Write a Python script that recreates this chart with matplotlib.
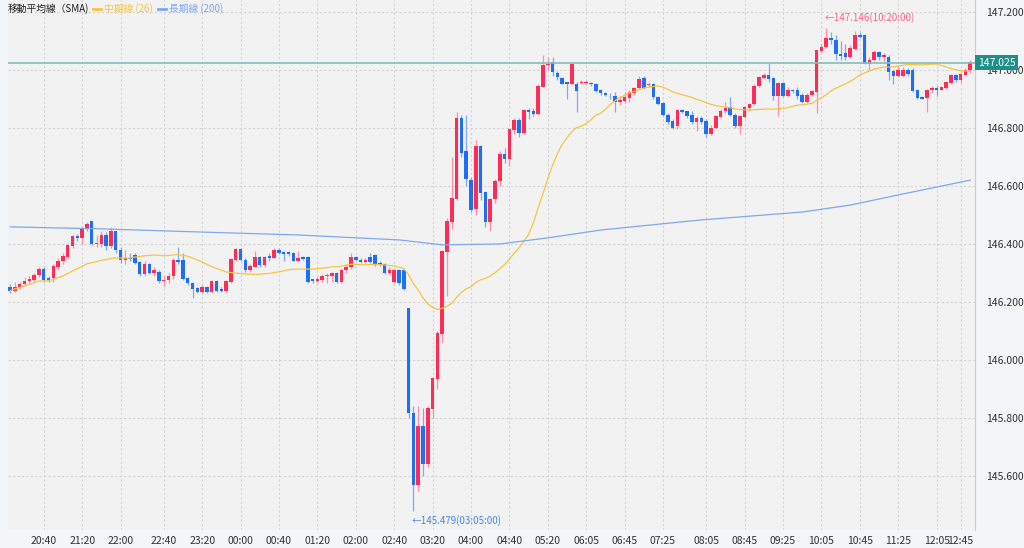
import matplotlib
matplotlib.use("Agg")
import matplotlib.pyplot as plt
import numpy as np
import pandas as pd

plt.rcParams['font.family'] = ['Noto Sans CJK JP', 'DejaVu Sans']

ohlc_rows = [
(146.251,146.239,146.262,146.232),(146.239,146.251,146.27,146.235),(146.251,146.262,146.27,146.245),
(146.262,146.272,146.285,146.255),(146.272,146.278,146.29,146.266),(146.278,146.293,146.30,146.27),
(146.293,146.313,146.32,146.285),(146.313,146.276,146.32,146.27),(146.282,146.276,146.29,146.27),
(146.285,146.322,146.33,146.27),(146.322,146.341,146.35,146.31),(146.341,146.356,146.37,146.33),
(146.356,146.394,146.40,146.35),(146.394,146.425,146.43,146.385),(146.425,146.42,146.435,146.41),
(146.42,146.452,146.46,146.40),(146.452,146.469,146.477,146.445),(146.477,146.40,146.48,146.395),
(146.40,146.403,146.43,146.39),(146.40,146.431,146.445,146.39),(146.431,146.393,146.44,146.38),
(146.393,146.442,146.46,146.385),(146.442,146.379,146.445,146.37),(146.379,146.347,146.39,146.335),
(146.347,146.352,146.38,146.33),(146.352,146.348,146.37,146.34),(146.36,146.336,146.37,146.33),
(146.336,146.296,146.34,146.29),(146.296,146.33,146.34,146.29),(146.33,146.30,146.335,146.295),
(146.30,146.31,146.32,146.29),(146.303,146.272,146.31,146.265),(146.272,146.276,146.29,146.255),
(146.276,146.29,146.30,146.265),(146.29,146.343,146.35,146.28),(146.345,146.34,146.39,146.33),
(146.343,146.28,146.37,146.275),(146.28,146.265,146.285,146.26),(146.265,146.247,146.27,146.215),
(146.247,146.236,146.25,146.23),(146.236,146.25,146.26,146.23),(146.25,146.236,146.255,146.23),
(146.236,146.27,146.275,146.23),(146.27,146.24,146.275,146.235),(146.243,146.24,146.25,146.235),
(146.24,146.27,146.275,146.235),(146.27,146.347,146.35,146.265),(146.347,146.382,146.385,146.34),
(146.382,146.345,146.385,146.34),(146.345,146.31,146.35,146.305),(146.31,146.322,146.33,146.305),
(146.322,146.354,146.375,146.32),(146.354,146.327,146.36,146.32),(146.327,146.354,146.36,146.32),
(146.358,146.354,146.37,146.34),(146.354,146.379,146.385,146.35),(146.379,146.37,146.385,146.365),
(146.372,146.368,146.375,146.34),(146.37,146.366,146.375,146.36),(146.368,146.343,146.372,146.34),
(146.343,146.352,146.375,146.34),(146.354,146.35,146.36,146.345),(146.354,146.27,146.36,146.265),
(146.278,146.272,146.28,146.265),(146.272,146.278,146.285,146.265),(146.278,146.29,146.295,146.27),
(146.29,146.292,146.30,146.265),(146.29,146.30,146.305,146.27),(146.30,146.27,146.305,146.265),
(146.27,146.31,146.315,146.265),(146.31,146.32,146.33,146.30),(146.32,146.354,146.37,146.315),
(146.354,146.345,146.36,146.34),(146.345,146.338,146.35,146.335),(146.338,146.345,146.35,146.335),
(146.355,146.338,146.37,146.335),(146.36,146.33,146.365,146.325),(146.335,146.33,146.34,146.325),
(146.33,146.30,146.335,146.295),(146.30,146.31,146.32,146.295),(146.27,146.31,146.315,146.265),
(146.31,146.265,146.315,146.26),(146.31,146.245,146.31,146.24),
(146.178,145.818,146.18,145.80),(145.818,145.569,145.84,145.479),(145.569,145.77,145.84,145.55),
(145.77,145.644,145.835,145.60),(145.644,145.833,145.84,145.63),(145.833,145.937,145.94,145.80),
(145.937,146.092,146.10,145.90),(146.092,146.374,146.38,146.06),(146.374,146.477,146.49,146.22),
(146.477,146.557,146.70,146.45),(146.557,146.833,146.856,146.55),(146.833,146.715,146.845,146.70),
(146.718,146.624,146.845,146.60),(146.62,146.517,146.63,146.51),(146.52,146.736,146.76,146.50),
(146.736,146.575,146.74,146.55),(146.577,146.477,146.58,146.46),(146.477,146.555,146.56,146.445),
(146.555,146.617,146.625,146.54),(146.617,146.709,146.72,146.60),(146.709,146.695,146.73,146.68),
(146.695,146.795,146.80,146.67),(146.795,146.828,146.835,146.78),(146.828,146.782,146.835,146.77),
(146.782,146.86,146.865,146.78),(146.86,146.856,146.87,146.83),(146.858,146.85,146.87,146.84),
(146.85,146.943,146.95,146.845),(146.943,147.017,147.05,146.94),(147.017,147.02,147.045,147.0),
(147.025,146.994,147.045,146.98),(146.99,146.977,146.995,146.965),(146.97,146.954,146.975,146.95),
(146.956,146.953,146.96,146.90),(146.954,147.021,147.025,146.95),(146.95,146.93,146.96,146.855),
(146.955,146.957,146.965,146.95),(146.955,146.957,146.965,146.95),(146.955,146.951,146.96,146.945),
(146.951,146.93,146.955,146.925),(146.93,146.92,146.935,146.915),(146.92,146.914,146.925,146.91),
(146.914,146.913,146.92,146.90),(146.91,146.89,146.925,146.855),(146.89,146.896,146.91,146.88),
(146.895,146.905,146.925,146.885),(146.905,146.922,146.93,146.89),(146.922,146.937,146.94,146.915),
(146.94,146.966,146.98,146.935),(146.97,146.94,146.98,146.935),(146.949,146.951,146.96,146.94),
(146.95,146.906,146.955,146.90),(146.905,146.885,146.91,146.88),(146.885,146.845,146.89,146.84),
(146.845,146.822,146.85,146.815),(146.822,146.80,146.83,146.795),(146.807,146.862,146.865,146.795),
(146.862,146.856,146.866,146.85),(146.856,146.842,146.86,146.835),(146.842,146.822,146.86,146.815),
(146.822,146.833,146.84,146.79),
(146.833,146.822,146.84,146.815),(146.822,146.781,146.83,146.77),(146.78,146.80,146.81,146.775),
(146.80,146.84,146.845,146.795),(146.84,146.858,146.865,146.835),(146.858,146.867,146.89,146.85),
(146.87,146.845,146.906,146.84),(146.845,146.806,146.85,146.80),(146.806,146.84,146.845,146.78),
(146.84,146.871,146.875,146.835),(146.871,146.882,146.885,146.86),(146.882,146.944,146.95,146.88),
(146.944,146.974,146.98,146.94),(146.974,146.982,146.99,146.97),(146.982,146.971,147.025,146.96),
(146.97,146.91,146.975,146.895),(146.91,146.954,146.96,146.84),(146.954,146.91,146.96,146.905),
(146.91,146.93,146.94,146.905),(146.93,146.928,146.935,146.92),(146.93,146.91,146.94,146.90),
(146.913,146.89,146.92,146.885),(146.89,146.913,146.92,146.885),(146.913,146.925,146.93,146.91),
(146.925,147.066,147.07,146.85),(147.066,147.078,147.09,147.06),(147.08,147.109,147.146,147.075),
(147.109,147.103,147.13,147.09),(147.103,147.055,147.12,147.035),(147.055,147.048,147.10,147.035),
(147.056,147.045,147.09,147.035),(147.045,147.074,147.085,147.04),(147.074,147.12,147.135,147.07),
(147.12,147.115,147.13,147.11),(147.12,147.023,147.125,147.02),(147.023,147.034,147.045,147.0),
(147.034,147.062,147.07,147.03),(147.062,147.045,147.065,147.035),(147.045,147.05,147.06,147.03),
(147.044,146.994,147.05,146.965),(146.994,146.98,147.0,146.95),(146.98,147.0,147.015,146.975),
(146.98,147.0,147.01,146.975),(147.0,146.986,147.005,146.98),(147.0,146.928,147.005,146.925),
(146.93,146.905,146.935,146.90),(146.905,146.902,146.91,146.90),(146.903,146.931,146.935,146.855),
(146.931,146.938,146.945,146.92),(146.938,146.933,146.945,146.91),(146.931,146.94,146.945,146.93),
(146.94,146.956,146.96,146.935),(146.956,146.98,146.985,146.95),(146.98,146.967,146.985,146.96),
(146.967,146.985,146.99,146.955),(146.985,147.0,147.005,146.985),(147.0,147.025,147.035,146.99),
]
opens = [r[0] for r in ohlc_rows]
closes = [r[1] for r in ohlc_rows]
highs = [r[2] for r in ohlc_rows]
lows = [r[3] for r in ohlc_rows]

ma200_idx = [0, 19, 40, 60, 81, 90, 102, 112, 123, 144, 165, 175, 185, 200]
ma200_val = [146.459, 146.452, 146.441, 146.431, 146.414, 146.397, 146.400, 146.421, 146.448, 146.483, 146.510, 146.534, 146.569, 146.620]

tick_idx = [7,15,23,32,40,48,56,64,72,80,88,96,104,112,120,128,136,145,153,161,169,177,185,193,198]
tick_labels = ["20:40","21:20","22:00","22:40","23:20","00:00","00:40","01:20","02:00","02:40",
               "03:20","04:00","04:40","05:20","06:05","06:45","07:25","08:05","08:45","09:25",
               "10:05","10:45","11:25","12:05","12:45"]
y_ticks = [145.6, 145.8, 146.0, 146.2, 146.4, 146.6, 146.8, 147.0, 147.2]
last_price = 147.025

UP = "#ff2d55"; DN = "#1e6ff5"
fig = plt.figure(figsize=(10.24, 5.48), dpi=100)
fig.patch.set_facecolor("#f3f6f6")
ax = fig.add_axes([8/1024, 18/548, 967/1024, 530/548])
ax.set_facecolor("#f2f2f2")
x = np.arange(len(closes))
o = np.array(opens); c = np.array(closes); h = np.array(highs); l = np.array(lows)
up = c >= o
cols = np.where(up, UP, DN)
ax.vlines(x, l, h, colors=np.where(up, "#ff8fa6", "#7fa9f5"), linewidth=0.9, zorder=2)
ax.bar(x, np.abs(c - o) + 0.002, bottom=np.minimum(o, c) - 0.001, width=0.72, color=cols, zorder=3, linewidth=0)

ma26 = pd.Series(closes).rolling(26, min_periods=1).mean()
ax.plot(x, ma26, color="#f5c542", linewidth=0.9, zorder=4)
ax.plot(ma200_idx, ma200_val, color="#7ea8ef", linewidth=0.9, zorder=4)
ax.axhline(last_price, color="#7fbfc0", linewidth=1.2, zorder=5)

ax.set_xlim(-0.45, 201)
ax.set_ylim(145.414, 147.241)
ax.set_xticks(tick_idx)
ax.set_xticklabels(tick_labels)
ax.set_yticks(y_ticks)
ax.set_yticklabels([f"{v:.3f}" for v in y_ticks])
ax.yaxis.tick_right()
ax.tick_params(axis='both', length=0, labelsize=7.5, colors="#333333")
ax.tick_params(axis='y', pad=8)
ax.tick_params(axis='x', pad=4)
ax.grid(True, color="#d4d4d4", linestyle=(0, (2, 2)), linewidth=0.8)
for s in ["top", "left", "bottom"]:
    ax.spines[s].set_visible(False)
ax.spines["right"].set_color("#cccccc")

ax.text(1.003, (last_price - 145.414) / (147.241 - 145.414), f"{last_price:.3f}", transform=ax.transAxes,
        fontsize=7.5, color="white", va="center", ha="left",
        bbox=dict(boxstyle="square,pad=0.25", facecolor="#1f8f8a", edgecolor="none"))

hi_i = int(np.argmax(h)); lo_i = int(np.argmin(l))
ax.text(hi_i - 0.3, h[hi_i] + 0.015, f"←{h[hi_i]:.3f}(10:20:00)", color="#ff6680", fontsize=7, va="bottom", ha="left")
ax.text(lo_i - 0.3, l[lo_i] - 0.015, f"←{l[lo_i]:.3f}(03:05:00)", color="#4a86e8", fontsize=7, va="top", ha="left")

fig.text(8/1024, 1 - 9/548, "移動平均線（SMA)", fontsize=7, va="center", ha="left", color="#222222")
fig.lines.append(plt.Line2D([93/1024, 101/1024], [1 - 9/548]*2, color="#f5c542", lw=2, transform=fig.transFigure))
fig.text(104/1024, 1 - 9/548, "中期線 (26)", fontsize=7, va="center", ha="left", color="#f5c542")
fig.lines.append(plt.Line2D([158/1024, 166/1024], [1 - 9/548]*2, color="#7ea8ef", lw=2, transform=fig.transFigure))
fig.text(169/1024, 1 - 9/548, "長期線 (200)", fontsize=7, va="center", ha="left", color="#7ea8ef")

fig.savefig("out.png", dpi=100)
